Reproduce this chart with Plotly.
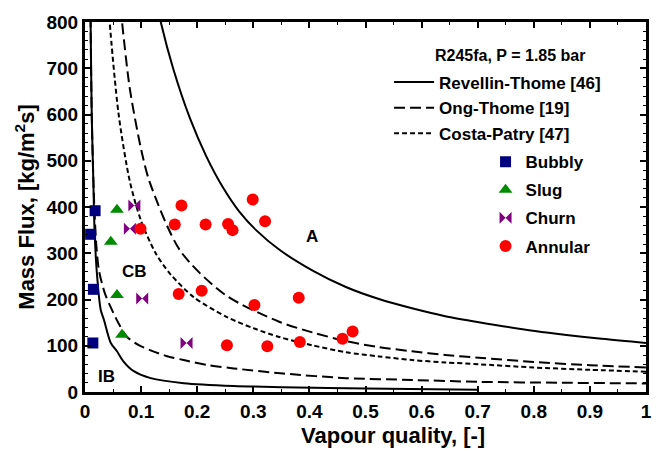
import plotly.graph_objects as go

# ---------------- data ----------------
# Revellin-Thome [46] transition curves (solid)
rt_ibcb_x = [0.009, 0.010, 0.012, 0.015, 0.017, 0.021, 0.028, 0.034, 0.046, 0.057, 0.068, 0.087, 0.117, 0.176, 0.265, 0.353, 0.50, 0.70]
rt_ibcb_g = [900, 800, 600, 450, 350, 260, 178, 155, 106, 88, 67, 45, 30, 19, 13, 10.5, 7.5, 5]
rt_cba_x = [0.12, 0.136, 0.157, 0.187, 0.216, 0.246, 0.275, 0.305, 0.346, 0.405, 0.465, 0.524, 0.583, 0.642, 0.702, 0.802, 0.921, 1.0]
rt_cba_g = [890, 795, 700, 592, 510, 442, 390, 350, 308, 263, 227, 201, 181, 164, 151, 132, 115, 106]

# Ong-Thome [19] transition curves (long dash)
ot_up_x = [0.058, 0.066, 0.08, 0.10, 0.115, 0.17, 0.25, 0.346, 0.405, 0.465, 0.524, 0.583, 0.642, 0.702, 0.8, 0.9, 1.0]
ot_up_g = [900, 800, 655, 525, 455, 305, 210, 152, 129, 110, 97, 88, 80, 74, 65, 58, 53]
ot_lo_x = [0.009, 0.010, 0.012, 0.016, 0.020, 0.025, 0.035, 0.046, 0.060, 0.075, 0.095, 0.117, 0.145, 0.176, 0.22, 0.265, 0.353, 0.465, 0.583, 0.702, 0.85, 1.0]
ot_lo_g = [950, 800, 600, 420, 320, 262, 215, 183, 148, 119, 102, 90, 78, 69, 58, 51, 40, 30, 26, 22, 20, 18.5]

# Costa-Patry [47] transition curve (short dash)
cp_x = [0.040, 0.044, 0.06, 0.08, 0.10, 0.126, 0.152, 0.194, 0.253, 0.30, 0.346, 0.405, 0.465, 0.524, 0.583, 0.642, 0.702, 0.8, 0.9, 1.0]
cp_g = [880, 800, 600, 455, 370, 300, 255, 205, 162, 138, 119, 101, 86, 77, 69, 64, 60, 53, 48, 44]

# Observed flow patterns
bubbly_x = [0.018, 0.010, 0.015, 0.014]
bubbly_g = [392, 341, 222, 106]
slug_x = [0.057, 0.046, 0.057, 0.066]
slug_g = [394, 325, 210, 124]
churn_x = [0.088, 0.080, 0.102, 0.181]
churn_g = [403, 353, 202, 106]
annular_x = [0.172, 0.160, 0.099, 0.215, 0.255, 0.263, 0.299, 0.321, 0.167, 0.208, 0.302, 0.381, 0.253, 0.325, 0.383, 0.459, 0.477]
annular_g = [403, 362, 353, 362, 363, 350, 416, 369, 212, 219, 188, 204, 101, 99, 108, 115, 131]

region_labels = ["A", "CB", "IB"]
region_x = [0.405, 0.089, 0.0385]
region_g = [337, 260, 33]

FONT = "Liberation Sans, Arial, sans-serif"

fig = go.Figure()

def line(x, y, name, dash, show, legendgroup):
    fig.add_trace(go.Scatter(
        x=x, y=y, mode="lines", name=name, showlegend=show, legend="legend",
        legendgroup=legendgroup,
        line=dict(color="black", width=2, dash=dash, shape="spline", smoothing=0.8),
        hoverinfo="skip"))

line(rt_ibcb_x, rt_ibcb_g, "Revellin-Thome [46]", "solid", True, "rt")
line(rt_cba_x, rt_cba_g, "Revellin-Thome [46]", "solid", False, "rt")
line(ot_up_x, ot_up_g, "Ong-Thome [19]", "11px,5px", True, "ot")
line(ot_lo_x, ot_lo_g, "Ong-Thome [19]", "11px,5px", False, "ot")
line(cp_x, cp_g, "Costa-Patry [47]", "5px,3px", True, "cp")

def pts(x, y, name, symbol, color, size):
    fig.add_trace(go.Scatter(
        x=x, y=y, mode="markers", name=name, legend="legend2", legendgroup=name,
        cliponaxis=False,
        marker=dict(symbol=symbol, color=color, size=size, line=dict(width=0))))

pts(bubbly_x, bubbly_g, "Bubbly", "square", "#00007f", 11)
pts(slug_x, slug_g, "Slug", "triangle-up", "#008a00", 12)
pts(churn_x, churn_g, "Churn", "bowtie", "#800080", 12)
pts(annular_x, annular_g, "Annular", "circle", "#ff0000", 12)

for t, x, y in zip(region_labels, region_x, region_g):
    fig.add_annotation(x=x, y=y, text=t, showarrow=False, xref="x", yref="y",
                       font=dict(family=FONT, size=17, color="black", weight="bold"))

fig.add_annotation(x=0.757, y=727, xref="x", yref="y", text="R245fa, P = 1.85 bar",
                   showarrow=False, font=dict(family=FONT, size=16, color="black", weight="bold"))

tickfont = dict(family=FONT, size=19, color="black", weight="bold")
titlefont = dict(family=FONT, size=22, color="black", weight="bold")

# x-axis title (placed slightly right of centre, as in the reference)
fig.add_annotation(x=0.549, y=-0.118, xref="paper", yref="paper", text="Vapour quality, [-]",
                   showarrow=False, yanchor="middle", font=titlefont)

fig.update_xaxes(range=[0, 1], tick0=0, dtick=0.1, showline=True, linewidth=3, linecolor="black",
                 mirror="allticks", ticks="inside", ticklen=6, tickwidth=1.5, tickcolor="black",
                 minor=dict(ticks="inside", ticklen=3, dtick=0.05, tickcolor="black", tickwidth=1),
                 showgrid=False, zeroline=False, tickfont=tickfont)
fig.update_yaxes(range=[0, 800], tick0=0, dtick=100, showline=True, linewidth=3, linecolor="black",
                 mirror="allticks", ticks="inside", ticklen=6, tickwidth=1.5, tickcolor="black",
                 minor=dict(ticks="inside", ticklen=3, dtick=20, tickcolor="black", tickwidth=1),
                 showgrid=False, zeroline=False, tickfont=tickfont,
                 title=dict(text="Mass Flux, [kg/m<sup>2</sup>s]", font=titlefont, standoff=6))

legfont = dict(family=FONT, size=17, color="black", weight="bold")
fig.update_layout(
    width=664, height=451,
    margin=dict(l=85, r=16, t=19, b=59),
    paper_bgcolor="white", plot_bgcolor="white",
    legend=dict(x=0.542, y=0.885, xanchor="left", yanchor="top", font=legfont,
                bgcolor="rgba(0,0,0,0)", tracegroupgap=0.5, itemwidth=40),
    legend2=dict(x=0.714, y=0.670, xanchor="left", yanchor="top", font=legfont,
                 bgcolor="rgba(0,0,0,0)", tracegroupgap=3),
)

fig.write_html("out.html")
